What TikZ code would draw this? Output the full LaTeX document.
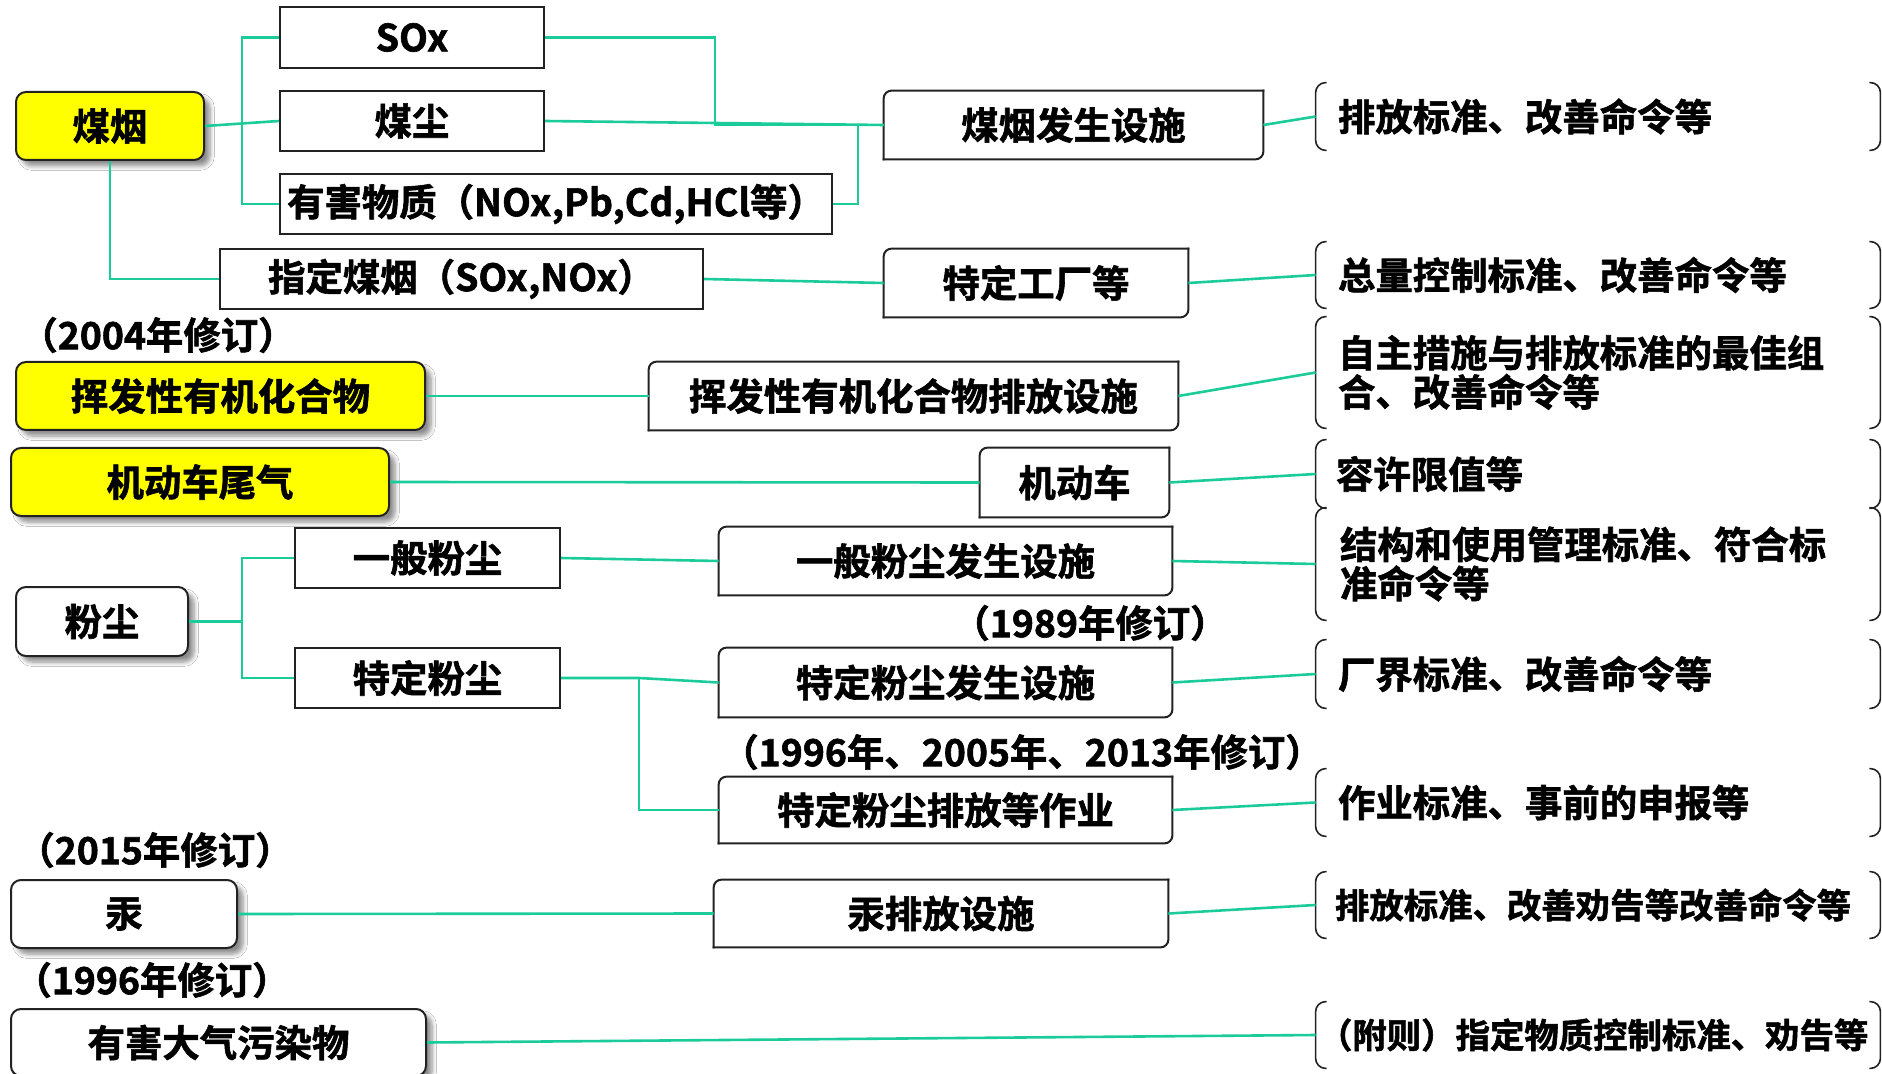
\documentclass[tikz,border=0pt]{standalone}
\usepackage{fontspec}
\setmainfont{Noto Sans CJK SC}[BoldFont={* Bold}, BoldFeatures={FakeBold=1.6}]
\usetikzlibrary{shadows.blur}
\definecolor{lnk}{HTML}{1BCC9A}
\definecolor{ylw}{HTML}{FFFF00}
\definecolor{bdr}{HTML}{222222}
\newcommand\fs{\fontsize{18.7pt}{19.6pt}\selectfont\bfseries}
\newcommand\fss{\fontsize{17.2pt}{19pt}\selectfont\bfseries}
\newcommand\dgframe[1]{%
  \draw[frame, rounded corners=4pt] (#1.north east) -- (#1.north west) -- (#1.south west);
  \draw[frame, rounded corners=4pt] (#1.south west) -- (#1.south east) -- (#1.north east);}
\newcommand\brkframe[1]{%
  \draw[brk, rounded corners=5pt] ([xshift=5.5pt]#1.north west) -- (#1.north west) -- (#1.south west) -- ([xshift=5.5pt]#1.south west);
  \draw[brk, rounded corners=5pt] ([xshift=-5.5pt]#1.north east) -- (#1.north east) -- (#1.south east) -- ([xshift=-5.5pt]#1.south east);}
\tikzset{
  sz/.style 2 args={minimum width=#1*0.5pt, minimum height=#2*0.5pt, inner sep=0pt},
  lbl/.style={font=\fs, text=black},
  hl/.style={lbl, draw=bdr, line width=1pt, fill=ylw, rounded corners=5pt,
    blur shadow={shadow xshift=3pt, shadow yshift=-3pt, shadow blur steps=6, shadow opacity=45}},
  wr/.style={hl, fill=white},
  sq/.style={lbl, draw=bdr, line width=1pt, fill=white},
  dg/.style={lbl},
  brn/.style={lbl, align=left, inner ysep=0pt, inner xsep=11pt, text width=260pt, minimum width=282pt},
  link/.style={draw=lnk, line width=1.3pt},
  frame/.style={draw=bdr, line width=1pt, line cap=rect},
  brk/.style={draw=bdr, line width=0.8pt},
}
\begin{document}
\begin{tikzpicture}[x=0.5pt,y=-0.5pt]
\fill[white] (0,0) rectangle (1882,1074);
\useasboundingbox (0,0) rectangle (1882,1074);

% left column
\node[hl, sz={188}{68}] (mc) at (110,126) {煤烟};
\node[hl, sz={409}{68}] (vol) at (220.5,396) {挥发性有机化合物};
\node[hl, sz={378}{68}] (car) at (200,482) {机动车尾气};
\node[wr, sz={172}{69}] (dust) at (102,621.5) {粉尘};
\node[wr, sz={226}{68}] (hg) at (124,914) {汞};
\node[wr, sz={415}{67}] (hap) at (218.5,1042.5) {有害大气污染物};

% second column
\node[sq, sz={264}{61}] (sox) at (412,37.5) {SOx};
\node[sq, sz={264}{60}] (mdust) at (412,121) {煤尘};
\node[sq, sz={552}{60}] (haz) at (556,204) {有害物质（NOx,Pb,Cd,HCl等）};
\node[sq, sz={483}{60}] (spec) at (461.5,279) {指定煤烟（SOx,NOx）};
\node[sq, sz={265}{60}] (gdust) at (427.5,558) {一般粉尘};
\node[sq, sz={265}{60}] (sdust) at (427.5,678) {特定粉尘};

% third column
\node[dg, sz={379}{68}] (ssf) at (1073.5,125) {煤烟发生设施};
\node[dg, sz={304}{68}] (fac) at (1036,283) {特定工厂等};
\node[dg, sz={529}{68}] (vfac) at (913.5,396) {挥发性有机化合物排放设施};
\node[dg, sz={189}{69}] (veh) at (1074.5,482.5) {机动车};
\node[dg, sz={453}{68}] (gfac) at (945.5,561) {一般粉尘发生设施};
\node[dg, sz={453}{69}] (sfac) at (945.5,682.5) {特定粉尘发生设施};
\node[dg, sz={453}{66}] (swork) at (945.5,810) {特定粉尘排放等作业};
\node[dg, sz={454}{67}] (hgfac) at (941,913.5) {汞排放设施};
\foreach \n in {ssf,fac,vfac,veh,gfac,sfac,swork,hgfac}{\dgframe{\n}}

% brackets
\node[brn, minimum height=33.5pt] (r1) at (1598,116.5) {排放标准、改善命令等};
\node[brn, minimum height=33pt] (r2) at (1598,275) {总量控制标准、改善命令等};
\node[brn, minimum height=55.5pt] (r3) at (1598,372.5) {自主措施与排放标准的最佳组\\合、改善命令等};
\node[brn, minimum height=34pt, inner xsep=10pt, text width=262pt] (r4) at (1598,474) {容许限值等};
\node[brn, minimum height=56pt, inner xsep=12pt, text width=258pt] (r5) at (1598,564) {结构和使用管理标准、符合标\\准命令等};
\node[brn, minimum height=34pt] (r6) at (1598,674) {厂界标准、改善命令等};
\node[brn, minimum height=33.5pt] (r7) at (1598,802.5) {作业标准、事前的申报等};
\node[brn, font=\fss, minimum height=33pt, inner xsep=9.5pt, text width=263pt] (r8) at (1598,905) {排放标准、改善劝告等改善命令等};
\node[brn, font=\fss, minimum height=33pt, inner xsep=1pt, text width=280pt] (r9) at (1598,1035) {（附则）指定物质控制标准、劝告等};
\foreach \n in {r1,r2,r3,r4,r5,r6,r7,r8,r9}{\brkframe{\n}}

% year labels
\node[lbl] (n2004) at (158,335) {（2004年修订）};
\node[lbl] (n1989) at (1090,623) {（1989年修订）};
\node[lbl] (n1996b) at (1022,752) {（1996年、2005年、2013年修订）};
\node[lbl] (n2015) at (155,850) {（2015年修订）};
\node[lbl] (n1996) at (152,980) {（1996年修订）};

% connectors
\coordinate (b1) at (242,126);
\draw[link] (mc.east) -- (mdust.west);
\draw[link] (sox.west) -| (b1) |- (haz.west);
\coordinate (j1) at (715,125);
\coordinate (j2) at (858,125);
\draw[link] (sox.east) -| (j1) -- (ssf.west);
\draw[link] (mdust.east) -- (ssf.west);
\draw[link] (haz.east) -| (j2);
\draw[link] (mc.south) |- (spec.west);
\draw[link] (spec.east) -- (fac.west);
\draw[link] (vol.east) -- (vfac.west);
\draw[link] (car.east) -- (veh.west);
\coordinate (b2) at (242,621.5);
\draw[link] (dust.east) -- (b2);
\draw[link] (gdust.west) -| (b2) |- (sdust.west);
\draw[link] (gdust.east) -- (gfac.west);
\coordinate (b3) at (639,678);
\draw[link] (sdust.east) -- (b3) -- (sfac.west);
\draw[link] (b3) |- (swork.west);
\draw[link] (hg.east) -- (hgfac.west);
\draw[link] (ssf.east) -- (r1.west);
\draw[link] (fac.east) -- (r2.west);
\draw[link] (vfac.east) -- (r3.west);
\draw[link] (veh.east) -- (r4.west);
\draw[link] (gfac.east) -- (r5.west);
\draw[link] (sfac.east) -- (r6.west);
\draw[link] (swork.east) -- (r7.west);
\draw[link] (hgfac.east) -- (r8.west);
\draw[link] (hap.east) -- (r9.west);
\end{tikzpicture}
\end{document}
